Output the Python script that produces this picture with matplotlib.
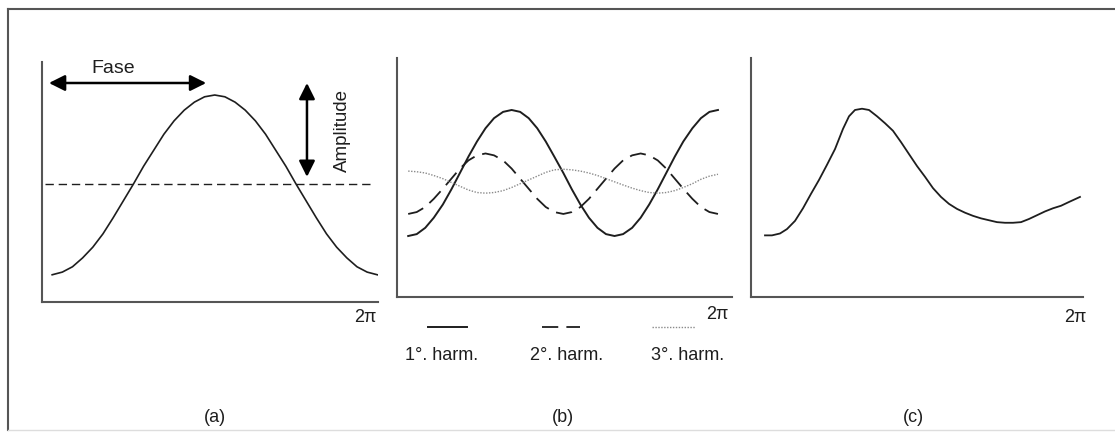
import numpy as np
import matplotlib
matplotlib.use("Agg")
import matplotlib.pyplot as plt
from matplotlib.lines import Line2D

plt.rcParams['font.family'] = ['Liberation Sans', 'DejaVu Sans']

twoPi = 2 * np.pi

# (a) one wave with its mean level
phaseA = [0.19, 0.38, 0.57, 0.76, 0.95, 1.14, 1.33, 1.52, 1.71, 1.90, 2.09, 2.28, 2.47, 2.66, 2.85, 3.04, 3.23,
          3.42, 3.61, 3.80, 3.99, 4.18, 4.37, 4.56, 4.75, 4.94, 5.13, 5.32, 5.51, 5.70, 5.89, 6.08, 6.27]
waveA = [-1.02, -0.99, -0.93, -0.83, -0.71, -0.56, -0.38, -0.19, 0.0, 0.2, 0.38, 0.56, 0.71, 0.83, 0.92, 0.98, 1.0,
         0.98, 0.92, 0.83, 0.71, 0.56, 0.38, 0.2, 0.0, -0.19, -0.38, -0.56, -0.71, -0.83, -0.93, -0.99, -1.02]
meanA = 0.0

# (b) the three harmonics
phaseB = [0.21, 0.37, 0.53, 0.69, 0.86, 1.02, 1.18, 1.34, 1.50, 1.66, 1.82, 1.99, 2.15, 2.31, 2.47, 2.63, 2.79,
          2.95, 3.12, 3.28, 3.44, 3.60, 3.76, 3.92, 4.08, 4.24, 4.41, 4.57, 4.73, 4.89, 5.05, 5.21, 5.37, 5.54,
          5.70, 5.86, 6.02]
harm1 = [-1.0, -0.97, -0.87, -0.71, -0.5, -0.26, 0.0, 0.26, 0.5, 0.71, 0.87, 0.97, 1.0, 0.97, 0.87, 0.71, 0.5,
         0.26, 0.0, -0.26, -0.5, -0.71, -0.87, -0.97, -1.0, -0.97, -0.87, -0.71, -0.5, -0.26, 0.0, 0.26, 0.5,
         0.71, 0.87, 0.97, 1.0]
harm2 = [-0.65, -0.62, -0.54, -0.41, -0.25, -0.09, 0.07, 0.2, 0.28, 0.31, 0.28, 0.2, 0.07, -0.09, -0.25, -0.41,
         -0.54, -0.62, -0.65, -0.62, -0.54, -0.41, -0.25, -0.09, 0.07, 0.2, 0.28, 0.31, 0.28, 0.2, 0.07, -0.09,
         -0.25, -0.41, -0.54, -0.62, -0.65]
harm3 = [0.03, 0.02, 0.0, -0.04, -0.09, -0.15, -0.21, -0.27, -0.31, -0.32, -0.31, -0.28, -0.23, -0.17, -0.11,
         -0.05, 0.01, 0.05, 0.06, 0.05, 0.03, 0.0, -0.04, -0.09, -0.14, -0.19, -0.24, -0.28, -0.31, -0.32, -0.31,
         -0.28, -0.23, -0.17, -0.10, -0.05, -0.02]
harmLabels = ["1°. harm.", "2°. harm.", "3°. harm."]

# (c) resulting wave
phaseC = [0.265, 0.397, 0.549, 0.681, 0.833, 0.984, 1.136, 1.287, 1.438, 1.590, 1.741, 1.855, 1.968, 2.101,
          2.233, 2.385, 2.536, 2.687, 2.839, 2.990, 3.142, 3.293, 3.444, 3.596, 3.747, 3.899, 4.050, 4.201,
          4.353, 4.504, 4.656, 4.807, 4.958, 5.110, 5.261, 5.413, 5.564, 5.715, 5.867, 6.018, 6.226]
waveC = [-0.99, -0.99, -0.96, -0.89, -0.76, -0.56, -0.33, -0.11, 0.13, 0.38, 0.70, 0.9, 1.0, 1.02, 1.0, 0.9,
         0.79, 0.67, 0.49, 0.30, 0.11, -0.06, -0.24, -0.38, -0.49, -0.57, -0.63, -0.68, -0.72, -0.75, -0.78,
         -0.79, -0.79, -0.78, -0.73, -0.67, -0.61, -0.56, -0.52, -0.46, -0.38]

panelLabels = ["(a)", "(b)", "(c)"]

ink = "#1e1e1e"
axisGrey = "#555555"
dotGrey = "#8a8a8a"


#bare axes: only left and bottom lines, no ticks
def styleAxes(ax, ylims):
    ax.set_xlim(0, twoPi)
    ax.set_ylim(*ylims)
    for side in ["top", "right"]:
        ax.spines[side].set_visible(False)
    for side in ["left", "bottom"]:
        ax.spines[side].set_color(axisGrey)
        ax.spines[side].set_linewidth(1.5)
    ax.set_xticks([])
    ax.set_yticks([])
    ax.patch.set_alpha(0)


def twoPiLabel(ax, xf, yf):
    ax.text(xf, yf, "2π", transform=ax.transAxes, ha="center", va="center", fontsize=13, color=ink)


def doubleArrow(ax, start, end):
    ax.annotate("", xy=end, xytext=start,
                arrowprops=dict(arrowstyle="<|-|>", color="black", lw=1.8, mutation_scale=24,
                                shrinkA=0, shrinkB=0))


def main():
    fig = plt.figure(figsize=(11.15, 4.32), dpi=100)

    # frame around the figure
    fig.add_artist(Line2D([8 / 1115, 1.0], [1 - 9 / 432, 1 - 9 / 432], color=axisGrey, lw=1.5,
                          transform=fig.transFigure))
    fig.add_artist(Line2D([8 / 1115, 8 / 1115], [2 / 432, 1 - 9 / 432], color=axisGrey, lw=1.5,
                          transform=fig.transFigure))
    fig.add_artist(Line2D([8 / 1115, 1.0], [2 / 432, 2 / 432], color="#dddddd", lw=1,
                          transform=fig.transFigure))

    axA = fig.add_axes([42 / 1115, 130 / 432, 336 / 1115, 240 / 432])
    axB = fig.add_axes([397 / 1115, 135 / 432, 335 / 1115, 239 / 432])
    axC = fig.add_axes([751 / 1115, 135 / 432, 332 / 1115, 239 / 432])

    # panel (a)
    styleAxes(axA, (-1.326, 1.371))
    axA.plot(phaseA, waveA, color=ink, lw=1.2)
    axA.plot([0.06, 6.17], [meanA, meanA], color=ink, lw=1.0, dashes=(6, 3.5))
    doubleArrow(axA, (0.13, 1.135), (3.07, 1.135))
    axA.text(1.33, 1.30, "Fase", ha="center", va="center", fontsize=14, color=ink)
    doubleArrow(axA, (4.955, 0.08), (4.955, 1.135))
    axA.text(5.61, 0.6, "Amplitude", rotation=90, ha="center", va="center", fontsize=13.5, color=ink)
    twoPiLabel(axA, 0.961, -0.065)

    # panel (b)
    styleAxes(axB, (-1.968, 1.825))
    keyStyles = [dict(color=ink, lw=1.4), dict(color=ink, lw=1.3, dashes=(9, 4.5)),
                 dict(color=dotGrey, lw=1.0, dashes=(1, 1.1))]
    for wave, style in zip([harm1, harm2, harm3], keyStyles):
        axB.plot(phaseB, wave, **style)
    twoPiLabel(axB, 0.955, -0.075)
    keyX = [(0.0925, 0.209), (0.433, 0.546), (0.761, 0.890)]
    labelX = [0.134, 0.507, 0.866]
    for i in range(3):
        axB.add_line(Line2D(keyX[i], [-0.1255, -0.1255], transform=axB.transAxes, clip_on=False, **keyStyles[i]))
        axB.text(labelX[i], -0.243, harmLabels[i], transform=axB.transAxes, ha="center", va="center",
                 fontsize=13, color=ink)

    # panel (c)
    styleAxes(axC, (-1.968, 1.825))
    axC.plot(phaseC, waveC, color=ink, lw=1.3)
    twoPiLabel(axC, 0.976, -0.084)

    for xf, lab in zip([215 / 1115, 563 / 1115, 913 / 1115], panelLabels):
        fig.text(xf, 14 / 432, lab, ha="center", va="center", fontsize=13, color=ink)

    fig.savefig("out.png", dpi=100)


if __name__ == "__main__":
    main()
